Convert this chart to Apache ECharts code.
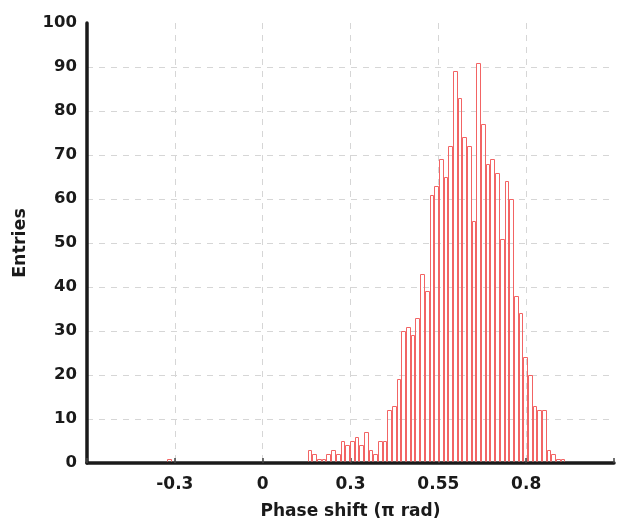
<!DOCTYPE html>
<html>
<head>
<meta charset="utf-8">
<style>
  html, body { margin: 0; padding: 0; background: #fff; }
  #chart { width: 617px; height: 525px; }
</style>
<script src="https://cdn.jsdelivr.net/npm/echarts@6/dist/echarts.min.js"></script>
</head>
<body>
<div id="chart"></div>
<script>
// Histogram of measured phase shifts (units of pi rad)
const binFirstEdge = -0.326;   // left edge of the first bin
const binWidth = 0.016;        // width of every bin
const counts = [
  1,
  0, 0, 0, 0, 0, 0, 0, 0, 0, 0, 0, 0, 0, 0, 0, 0, 0, 0, 0, 0, 0, 0, 0, 0, 0, 0, 0, 0, 0,
  3, 2, 1, 1, 2, 3, 2, 5, 4, 5, 6, 4, 7, 3, 2, 5, 5, 12, 13, 19,
  30, 31, 29, 33, 43, 39, 61, 63, 69, 65, 72, 89, 83, 74, 72, 55, 91, 77, 68,
  69, 66, 51, 64, 60, 38, 34, 24, 20, 13, 12, 12, 3, 2, 1, 1
];

// Axis ticks and the labels printed under them
const tickValues = [-0.3, 0, 0.3, 0.6, 0.9];
const tickLabels = ['-0.3', '0', '0.3', '0.55', '0.8'];
const yTicks = [0, 10, 20, 30, 40, 50, 60, 70, 80, 90, 100];

const bins = [];
counts.forEach(function (n, i) {
  if (n > 0) {
    const x0 = binFirstEdge + i * binWidth;
    bins.push([x0, x0 + binWidth, n]);
  }
});

const FONT = 'DejaVu Sans';
const INK = '#1a1a1a';
const GRID_LINE = { color: '#d6d6d6', width: 1, type: [6, 6] };

const chart = echarts.init(document.getElementById('chart'), null, { renderer: 'canvas' });

chart.setOption({
  animation: false,
  backgroundColor: '#fff',
  grid: { left: 87, right: 1, top: 23, bottom: 62, containLabel: false },
  xAxis: {
    type: 'value',
    min: -0.6,
    max: 1.2,
    interval: 0.3,
    name: 'Phase shift (\u03c0 rad)',
    nameLocation: 'middle',
    nameGap: 40,
    nameTextStyle: { fontFamily: FONT, fontWeight: 'bold', fontSize: 17, color: INK },
    axisLine: { show: true, onZero: false, lineStyle: { color: '#1a1a1a', width: 3.5 } },
    axisTick: { show: true, inside: true, length: 5, lineStyle: { color: '#444', width: 1.5 } },
    axisLabel: {
      margin: 13,
      fontFamily: FONT, fontWeight: 'bold', fontSize: 17, color: INK,
      formatter: function (v) {
        for (let i = 0; i < tickValues.length; i++) {
          if (Math.abs(v - tickValues[i]) < 1e-6) return tickLabels[i];
        }
        return '';
      }
    },
    splitLine: { show: true, showMinLine: false, showMaxLine: false, lineStyle: GRID_LINE }
  },
  yAxis: {
    type: 'value',
    min: yTicks[0],
    max: yTicks[yTicks.length - 1],
    interval: 10,
    name: 'Entries',
    nameLocation: 'middle',
    nameGap: 58,
    nameTextStyle: { fontFamily: FONT, fontWeight: 'bold', fontSize: 17.5, color: INK },
    axisLine: { show: true, onZero: false, lineStyle: { color: '#1a1a1a', width: 3.5 } },
    axisTick: { show: false },
    axisLabel: {
      margin: 10,
      fontFamily: FONT, fontWeight: 'bold', fontSize: 16.5, color: INK
    },
    splitLine: { show: true, showMinLine: false, showMaxLine: false, lineStyle: GRID_LINE }
  },
  series: [{
    type: 'custom',
    clip: true,
    z: 1,
    data: bins,
    encode: { x: [0, 1], y: 2 },
    renderItem: function (params, api) {
      const top = api.coord([api.value(0), api.value(2)]);
      const base = api.coord([api.value(1), 0]);
      const left = Math.round(top[0]) + 0.5;
      const right = Math.round(base[0]) - 0.5;
      const y = Math.round(top[1]) + 0.5;
      const bottom = base[1] - 1.5;   // stop where the axis line begins
      return {
        type: 'polyline',
        shape: { points: [[left, bottom], [left, y], [right, y], [right, bottom]] },
        style: { fill: null, stroke: '#f26464', lineWidth: 1 }
      };
    }
  }]
});
</script>
</body>
</html>
